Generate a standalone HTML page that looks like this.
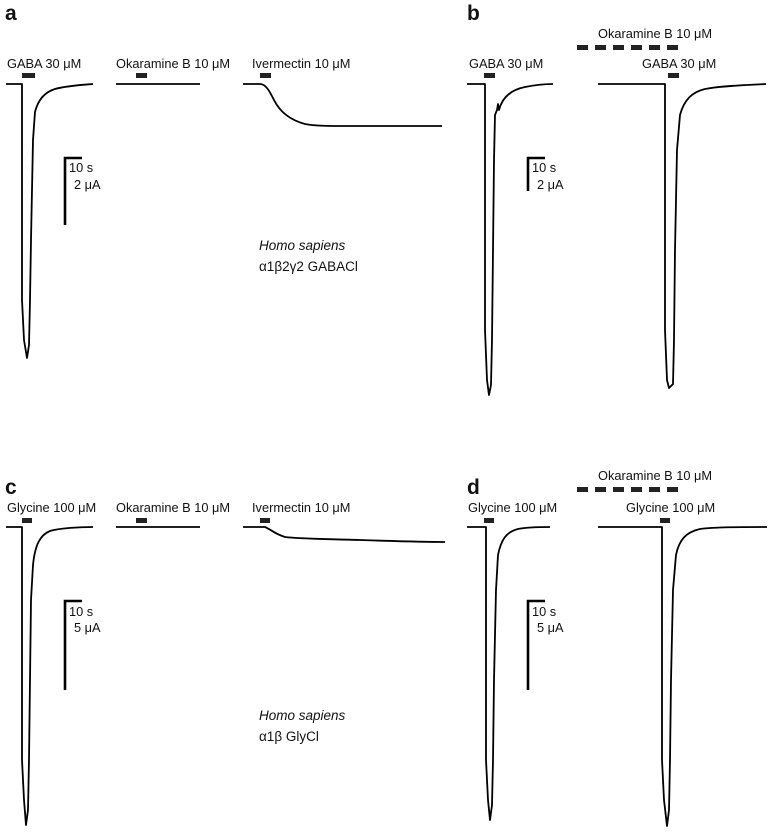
<!DOCTYPE html>
<html><head><meta charset="utf-8"><style>
html,body{margin:0;padding:0;background:#fff;}
svg{display:block;}
text{font-family:"Liberation Sans",Arial,sans-serif;font-size:12.8px;fill:#111;}
.L{font-size:21px;font-weight:bold;}
.big{font-size:13.5px;}
.tr{fill:none;stroke:#000;stroke-width:1.8;stroke-linejoin:round;}
.bar{fill:#222;}
.sb{fill:none;stroke:#000;stroke-width:2.6;}
</style></head><body>
<svg width="770" height="834" viewBox="0 0 770 834" xmlns="http://www.w3.org/2000/svg">
<!-- Panel a -->
<text class="L" x="5" y="20">a</text>
<text x="7" y="68">GABA 30 μM</text>
<rect class="bar" x="22" y="73" width="13" height="5"/>
<path class="tr" d="M6,84 L22,84 L22,300 L24,340 L27,358 L29,345 L30,300 L31,240 L33,140 L35,112 C38,100 45,92 55,89 C65,86 80,85 93,84"/>
<text x="116" y="68">Okaramine B 10 μM</text>
<rect class="bar" x="136" y="73" width="11" height="5"/>
<path class="tr" d="M116,84 L200,84"/>
<text x="252" y="68">Ivermectin 10 μM</text>
<rect class="bar" x="260" y="73" width="11" height="5"/>
<path class="tr" d="M243,84 L260,84 C266,84 270,92 274,100 C280,112 290,120 305,124 C315,126 330,126 345,126 L442,126"/>
<path class="sb" d="M82,158 L65,158 L65,225"/>
<text x="69" y="172">10 s</text>
<text x="74" y="189">2 μA</text>
<text class="big" x="259" y="250" font-style="italic">Homo sapiens</text>
<text class="big" x="259" y="271">α1β2γ2 GABACl</text>

<!-- Panel b -->
<text class="L" x="467" y="20">b</text>
<text x="598" y="38">Okaramine B 10 μM</text>
<g class="bar"><rect x="577" y="45" width="11" height="5"/><rect x="595" y="45" width="11" height="5"/><rect x="613" y="45" width="11" height="5"/><rect x="631" y="45" width="11" height="5"/><rect x="649" y="45" width="11" height="5"/><rect x="667" y="45" width="11" height="5"/></g>
<text x="469" y="68">GABA 30 μM</text>
<rect class="bar" x="484" y="73" width="11" height="5"/>
<path class="tr" d="M467,84 L485,84 L485,330 L487,380 L489,395 L491,385 L492,340 L493,250 L494,160 L495,115 L497,110 L498,104 L499,110 C502,98 510,90 525,87 C535,85 545,84 553,84"/>
<text x="642" y="68">GABA 30 μM</text>
<rect class="bar" x="668" y="73" width="11" height="5"/>
<path class="tr" d="M598,84 L665,84 L665,330 L667,380 L669,388 L673,384 L674,340 L675,250 L677,150 L680,115 C684,100 692,92 705,89 C720,86 745,85 766,84"/>
<path class="sb" d="M545,158 L528,158 L528,191"/>
<text x="532" y="172">10 s</text>
<text x="537" y="189">2 μA</text>

<!-- Panel c -->
<text class="L" x="5" y="494">c</text>
<text x="7" y="512">Glycine 100 μM</text>
<rect class="bar" x="22" y="518" width="10" height="5"/>
<path class="tr" d="M6,527 L22,527 L22,760 L24,800 L26,825 L28,810 L29,760 L30,680 L31,600 L33,565 C35,545 40,535 50,531 C60,528 80,527 93,527"/>
<text x="116" y="512">Okaramine B 10 μM</text>
<rect class="bar" x="136" y="518" width="11" height="5"/>
<path class="tr" d="M116,527 L200,527"/>
<text x="252" y="512">Ivermectin 10 μM</text>
<rect class="bar" x="260" y="518" width="10" height="5"/>
<path class="tr" d="M243,527 L265,527 C270,529 275,534 285,537 C300,539 330,539 360,540 C390,541 420,542 445,542"/>
<path class="sb" d="M82,601 L65,601 L65,690"/>
<text x="69" y="616">10 s</text>
<text x="74" y="632">5 μA</text>
<text class="big" x="259" y="720" font-style="italic">Homo sapiens</text>
<text class="big" x="259" y="741">α1β GlyCl</text>

<!-- Panel d -->
<text class="L" x="467" y="494">d</text>
<text x="598" y="480">Okaramine B 10 μM</text>
<g class="bar"><rect x="577" y="487" width="11" height="5"/><rect x="595" y="487" width="11" height="5"/><rect x="613" y="487" width="11" height="5"/><rect x="631" y="487" width="11" height="5"/><rect x="649" y="487" width="11" height="5"/><rect x="667" y="487" width="11" height="5"/></g>
<text x="468" y="512">Glycine 100 μM</text>
<rect class="bar" x="484" y="518" width="10" height="5"/>
<path class="tr" d="M467,527 L486,527 L486,760 L488,800 L490,820 L492,805 L493,760 L494,680 L496,590 L498,555 C501,540 506,532 518,529 C528,527 540,527 550,527"/>
<text x="626" y="512">Glycine 100 μM</text>
<rect class="bar" x="660" y="518" width="10" height="5"/>
<path class="tr" d="M598,527 L662,527 L662,760 L664,800 L667,826 L669,810 L670,760 L671,680 L673,590 L676,555 C679,540 686,532 700,529 C715,527 740,527 767,527"/>
<path class="sb" d="M545,601 L528,601 L528,690"/>
<text x="532" y="616">10 s</text>
<text x="537" y="632">5 μA</text>
</svg>
</body></html>
